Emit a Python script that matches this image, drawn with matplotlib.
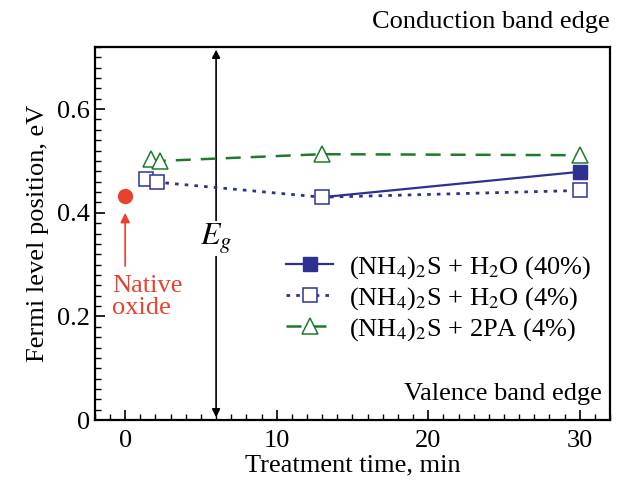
import matplotlib
matplotlib.use('Agg')
import matplotlib.pyplot as plt
from matplotlib.ticker import MultipleLocator

plt.rcParams['font.family'] = ['Liberation Serif', 'DejaVu Serif']
plt.rcParams['mathtext.fontset'] = 'stix'

# data
native_x = [0]
native_y = [0.433]

h2o40_x = [13, 30]
h2o40_y = [0.430, 0.479]

h2o4_x = [1.4, 2.1, 13, 30]
h2o4_y = [0.465, 0.459, 0.430, 0.443]

pa_x = [1.7, 2.3, 13, 30]
pa_y = [0.503, 0.500, 0.513, 0.511]

labels = [r'(NH$_4$)$_2$S + H$_2$O (40%)',
          r'(NH$_4$)$_2$S + H$_2$O (4%)',
          r'(NH$_4$)$_2$S + 2PA (4%)']

blue = '#2e3192'
green = '#1f7a2c'
red = '#e8412c'

fig = plt.figure(figsize=(6.2, 4.88), dpi=100)
ax = fig.add_axes([0.153, 0.139, 0.831, 0.765])

l1, = ax.plot(h2o40_x, h2o40_y, '-', color=blue, lw=1.6, marker='s', ms=10,
              mfc=blue, mec=blue, markevery=[1], zorder=3)
l2, = ax.plot(h2o4_x, h2o4_y, ':', color=blue, lw=2.0, dashes=(1.3, 2.2), marker='s', ms=10,
              mfc='white', mec=blue, mew=1.1, zorder=4)
l3, = ax.plot(pa_x, pa_y, '--', color=green, lw=1.8, dashes=(6, 4), marker='^', ms=12,
              mfc='white', mec=green, mew=1.1, zorder=4)
ax.plot(native_x, native_y, 'o', color=red, ms=10, zorder=4)

# native oxide arrow + label
ax.annotate('', xy=(0, 0.405), xytext=(0, 0.292),
            arrowprops=dict(arrowstyle='-|>', color=red, lw=1.2, mutation_scale=14))
ax.text(-0.85, 0.28, 'Native\noxide', color=red, fontsize=19, ha='left', va='top',
        linespacing=1.0)

# band gap arrow
ax.annotate('', xy=(6.0, 0.72), xytext=(6.0, 0.0),
            arrowprops=dict(arrowstyle='<|-|>', color='black', lw=1.2, mutation_scale=12))
ax.text(6.0, 0.35, r'$E_g$', fontsize=23, ha='center', va='center',
        bbox=dict(facecolor='white', edgecolor='none', pad=0.3))

ax.text(0.985, 0.04, 'Valence band edge', transform=ax.transAxes, fontsize=19,
        ha='right', va='bottom')
fig.text(0.984, 0.955, 'Conduction band edge', fontsize=19, ha='right', va='center')

ax.set_xlim(-2, 32)
ax.set_ylim(0, 0.72)
ax.xaxis.set_major_locator(MultipleLocator(10))
ax.xaxis.set_minor_locator(MultipleLocator(1))
ax.set_yticks([0, 0.2, 0.4, 0.6])
ax.set_yticklabels(['0', '0.2', '0.4', '0.6'])
ax.yaxis.set_minor_locator(MultipleLocator(0.02))
ax.tick_params(which='both', direction='in', top=False, right=False, labelsize=19)
ax.tick_params(which='major', length=7, width=1.2)
ax.tick_params(which='minor', length=4, width=1.0)
ax.tick_params(axis='x', pad=7)
for s in ax.spines.values():
    s.set_linewidth(1.6)

ax.set_xlabel('Treatment time, min', fontsize=19, labelpad=2)
ax.set_ylabel('Fermi level position, eV', fontsize=19, labelpad=6)

ax.legend([l1, l2, l3], labels, loc='lower right', bbox_to_anchor=(0.995, 0.165),
          frameon=False, fontsize=19, handlelength=1.8, handletextpad=0.6,
          labelspacing=0.15, borderaxespad=0.2)

fig.savefig('out.png', dpi=100)
